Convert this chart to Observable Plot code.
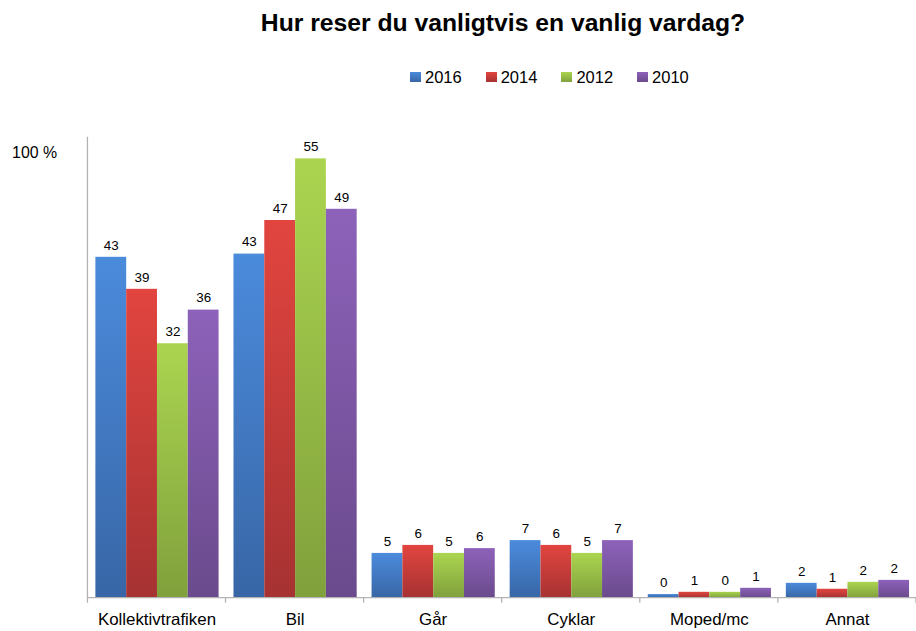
<!DOCTYPE html>
<html><head><meta charset="utf-8">
<script src="https://cdn.jsdelivr.net/npm/d3@7"></script>
<script src="https://cdn.jsdelivr.net/npm/@observablehq/plot@0.6"></script>
<style>
html,body{margin:0;padding:0;background:#fff;overflow:hidden;width:916px;height:631px}
body{font-family:"Liberation Sans",Arial,sans-serif;position:relative}
#title{position:absolute;top:9px;left:503px;transform:translateX(-50%);white-space:nowrap;font-weight:bold;font-size:24.7px;color:#000}
#legend{position:absolute;top:67.5px;left:410px;display:flex;font-size:16.5px;color:#000}
.item{display:flex;align-items:center;width:75.7px}
.sw{width:11px;height:10px;margin-right:4px}
#chart{position:absolute;top:100px;left:0}
</style></head>
<body>
<div id="title">Hur reser du vanligtvis en vanlig vardag?</div>
<div id="legend"></div>
<div id="chart"></div>
<script>
const categories = ["Kollektivtrafiken", "Bil", "Går", "Cyklar", "Moped/mc", "Annat"];
const years = ["2016", "2014", "2012", "2010"];
// bar heights
const values2016 = [42.6, 43.0, 5.6, 7.2, 0.46, 1.86];
const values2014 = [38.6, 47.2, 6.6, 6.6, 0.74, 1.12];
const values2012 = [31.8, 54.9, 5.6, 5.6, 0.74, 1.99];
const values2010 = [36.0, 48.6, 6.2, 7.2, 1.24, 2.23];
// printed data labels
const labels2016 = [43, 43, 5, 7, 0, 2];
const labels2014 = [39, 47, 6, 6, 1, 1];
const labels2012 = [32, 55, 5, 5, 0, 2];
const labels2010 = [36, 49, 6, 7, 1, 2];
const colorTop = ["#4b8bdc", "#e2453f", "#abd550", "#8d62ba"];
const colorBottom = ["#3866a6", "#a63232", "#80a03c", "#6a4a8c"];
const yTicks = [55.6];
const yTickLabels = ["100 %"];

const seriesValues = [values2016, values2014, values2012, values2010];
const seriesLabels = [labels2016, labels2014, labels2012, labels2010];
const rows = [];
categories.forEach((c, ci) => {
  years.forEach((yr, yi) => {
    rows.push({category: c, year: yr, value: seriesValues[yi][ci], label: seriesLabels[yi][ci]});
  });
});

// legend
const legend = d3.select("#legend");
years.forEach((yr, i) => {
  const it = legend.append("div").attr("class", "item");
  it.append("div").attr("class", "sw").style("background", `linear-gradient(${colorTop[i]}, ${colorBottom[i]})`);
  it.append("span").text(yr);
});

const chart = Plot.plot({
  width: 922,
  height: 531,
  marginTop: 37,
  marginBottom: 30,
  marginLeft: 88,
  marginRight: 0,
  style: {fontFamily: "'Liberation Sans', Arial, sans-serif", background: "transparent", overflow: "visible", color: "#000"},
  fx: {domain: categories, padding: 0, label: null},
  x: {domain: years, paddingInner: 0, paddingOuter: 0.21, axis: null},
  y: {domain: [0, 57.6], label: null},
  color: {type: "ordinal", domain: years, range: years.map(y => `url(#grad${y})`)},
  marks: [
    Plot.barY(rows, {fx: "category", x: "year", y: "value", fill: "year"}),
    Plot.text(rows, {fx: "category", x: "year", y: "value", text: "label", dy: -12, fontSize: 13.5, fill: "#000"}),
    Plot.axisY({ticks: yTicks, tickFormat: d => yTickLabels[yTicks.indexOf(d)], tickSize: 0, tickPadding: 31, fontSize: 16, label: null}),
    Plot.axisFx({anchor: "bottom", tickSize: 0, tickPadding: 15, fontSize: 17, label: null})
  ]
});
document.getElementById("chart").appendChild(chart);

const svg = d3.select(chart);
const defs = svg.insert("defs", ":first-child");
years.forEach((yr, i) => {
  const g = defs.append("linearGradient").attr("id", "grad" + yr)
    .attr("x1", 0).attr("y1", 0).attr("x2", 0).attr("y2", 1);
  g.append("stop").attr("offset", "0%").attr("stop-color", colorTop[i]);
  g.append("stop").attr("offset", "100%").attr("stop-color", colorBottom[i]);
});

// axis lines drawn from Plot's own scales
const fx = chart.scale("fx"), ys = chart.scale("y");
const y0 = ys.apply(0), yTop = ys.apply(ys.domain[1]);
const left = fx.apply(categories[0]);
const step = fx.apply(categories[1]) - fx.apply(categories[0]);
const ax = svg.append("g").attr("stroke", "#b3b3b3").attr("stroke-width", 1.3).attr("fill", "none");
ax.append("line").attr("x1", left).attr("x2", left + step * categories.length).attr("y1", y0).attr("y2", y0);
ax.append("line").attr("x1", left).attr("x2", left).attr("y1", yTop).attr("y2", y0 + 5);
for (let i = 1; i <= categories.length; i++) {
  ax.append("line").attr("x1", left + i * step).attr("x2", left + i * step).attr("y1", y0).attr("y2", y0 + 5);
}
</script>
</body></html>
